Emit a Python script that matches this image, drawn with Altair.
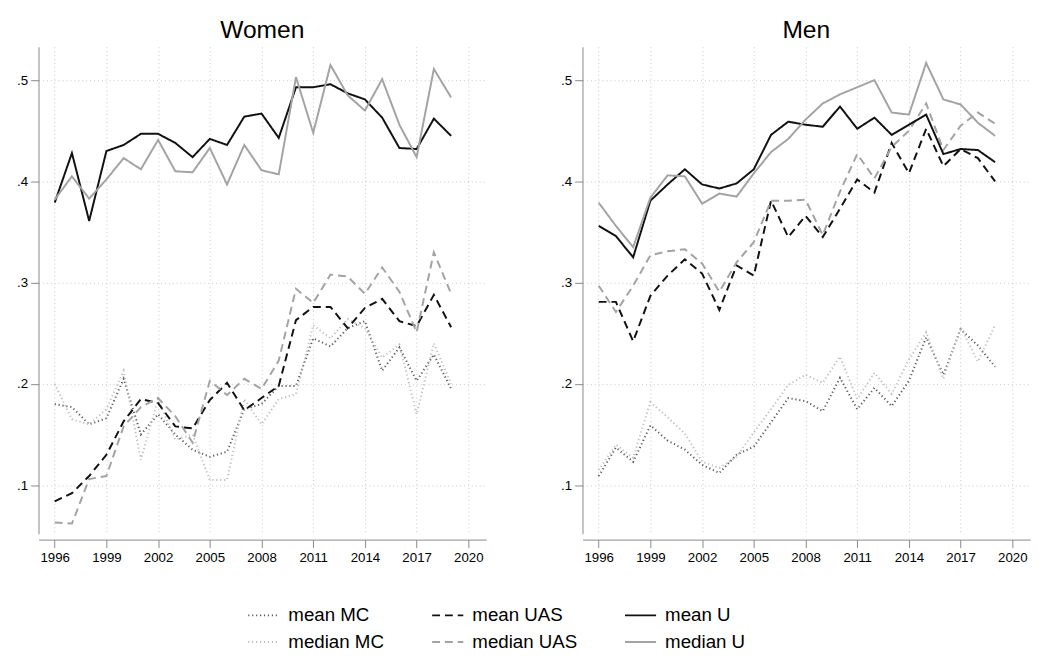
import altair as alt
import pandas as pd

years = list(range(1996, 2020))
series_order = ["mean MC", "median MC", "mean UAS", "median UAS", "mean U", "median U"]

w_mean_u = [.379,.428,.361,.430,.436,.447,.447,.438,.424,.442,.436,.464,.467,.443,.493,.493,.496,.487,.481,.463,.433,.432,.462,.445]
w_med_u = [.382,.405,.383,.402,.423,.412,.441,.410,.409,.433,.397,.436,.411,.407,.503,.448,.515,.485,.470,.501,.456,.424,.511,.483]
w_mean_uas = [.084,.092,.109,.130,.163,.185,.181,.158,.156,.184,.201,.174,.186,.198,.263,.276,.276,.255,.275,.284,.262,.257,.288,.256]
w_med_uas = [.063,.062,.106,.109,.158,.177,.186,.168,.142,.203,.189,.205,.195,.223,.294,.280,.308,.306,.289,.315,.291,.251,.330,.289]
w_mean_mc = [.180,.177,.160,.166,.205,.150,.170,.150,.135,.128,.133,.175,.180,.198,.198,.245,.237,.255,.262,.213,.236,.203,.229,.195]
w_med_mc = [.200,.165,.160,.175,.213,.125,.185,.145,.150,.105,.105,.185,.160,.185,.190,.258,.245,.264,.255,.226,.239,.170,.240,.200]

m_mean_u = [.356,.346,.325,.381,.397,.412,.397,.393,.398,.412,.446,.459,.456,.454,.474,.452,.463,.446,.456,.466,.427,.432,.431,.419]
m_med_u = [.379,.356,.335,.384,.406,.405,.378,.388,.385,.408,.429,.442,.461,.477,.486,.493,.500,.468,.466,.517,.481,.476,.458,.445]
m_mean_uas = [.281,.281,.242,.287,.307,.323,.309,.273,.317,.307,.381,.345,.366,.345,.373,.402,.389,.438,.408,.452,.415,.432,.423,.400]
m_med_uas = [.297,.271,.297,.327,.331,.333,.319,.291,.320,.340,.381,.381,.382,.347,.390,.427,.403,.434,.450,.477,.431,.455,.468,.457]
m_mean_mc = [.109,.137,.123,.159,.144,.135,.120,.112,.130,.138,.162,.186,.183,.173,.206,.175,.196,.178,.203,.246,.209,.254,.238,.217]
m_med_mc = [.115,.140,.127,.182,.167,.151,.123,.117,.128,.152,.175,.199,.209,.201,.227,.185,.211,.190,.224,.251,.205,.256,.222,.258]

x_ticks = [1996, 1999, 2002, 2005, 2008, 2011, 2014, 2017, 2020]
y_ticks = [0.1, 0.2, 0.3, 0.4, 0.5]

panels = {
    "Women": {"mean MC": w_mean_mc, "median MC": w_med_mc, "mean UAS": w_mean_uas,
              "median UAS": w_med_uas, "mean U": w_mean_u, "median U": w_med_u},
    "Men": {"mean MC": m_mean_mc, "median MC": m_med_mc, "mean UAS": m_mean_uas,
            "median UAS": m_med_uas, "mean U": m_mean_u, "median U": m_med_u},
}

rows = []
for g, d in panels.items():
    for s, vals in d.items():
        for y, v in zip(years, vals):
            rows.append({"gender": g, "series": s, "year": y, "value": v})
df = pd.DataFrame(rows)

X_DOMAIN = [1995.06, 2021.03]
Y_DOMAIN = [0.052, 0.533]

colors = {"mean MC": "#5a5a5a", "mean UAS": "#111111", "mean U": "#111111",
          "median MC": "#bdbdbd", "median UAS": "#a3a3a3", "median U": "#a3a3a3"}
dashes = {"mean MC": [1.2, 2.8], "mean UAS": [8, 5], "mean U": [1, 0],
          "median MC": [1.2, 2.8], "median UAS": [8, 5], "median U": [1, 0]}

W, H = 455, 495
FONT = "Liberation Sans"

xscale = alt.Scale(domain=X_DOMAIN, nice=False, zero=False)
yscale = alt.Scale(domain=Y_DOMAIN, nice=False, zero=False)

xaxis = alt.Axis(values=x_ticks, format="d", title=None, grid=True, gridDash=[1, 3],
                 gridColor="#c8c8c8", domain=True, domainColor="#888888",
                 tickColor="#888888", tickSize=8, offset=6, labelFontSize=13.5,
                 labelColor="#000000", labelPadding=3, labelFont=FONT)
yaxis = alt.Axis(values=y_ticks, title=None, grid=True, gridDash=[1, 3],
                 gridColor="#c8c8c8", domain=True, domainColor="#888888",
                 tickColor="#888888", tickSize=8, labelFontSize=13.5,
                 labelColor="#000000", labelPadding=3, labelFont=FONT,
                 labelExpr="replace(format(datum.value, '.1f'), '0.', '.')")


def panel(g):
    sub = df[df.gender == g]
    lines = alt.Chart(sub).mark_line(strokeWidth=2).encode(
        x=alt.X("year:Q", scale=xscale, axis=xaxis),
        y=alt.Y("value:Q", scale=yscale, axis=yaxis),
        color=alt.Color("series:N", scale=alt.Scale(domain=series_order,
                        range=[colors[s] for s in series_order]),
                        legend=alt.Legend(title=None)),
        strokeDash=alt.StrokeDash("series:N", scale=alt.Scale(domain=series_order,
                                  range=[dashes[s] for s in series_order]),
                                  legend=alt.Legend(title=None)),
        detail="series:N",
    )
    return lines.properties(
        width=W, height=H,
        title=alt.TitleParams(g, fontSize=25, fontWeight="normal", font=FONT,
                              anchor="middle", offset=4, color="#000000"))


chart = alt.hconcat(panel("Women"), panel("Men"), spacing=75).configure_view(
    stroke=None
).configure_legend(
    orient="none", legendX=212, legendY=561, columns=3, symbolType="stroke",
    symbolSize=1000, symbolStrokeWidth=2, labelFontSize=19, labelFont=FONT,
    labelColor="#000000", rowPadding=0, columnPadding=44, labelOffset=8
).properties(padding={"left": 8, "top": 5, "right": 5, "bottom": 5})

chart.save("out.html", embed_options={"renderer": "svg", "actions": False})
